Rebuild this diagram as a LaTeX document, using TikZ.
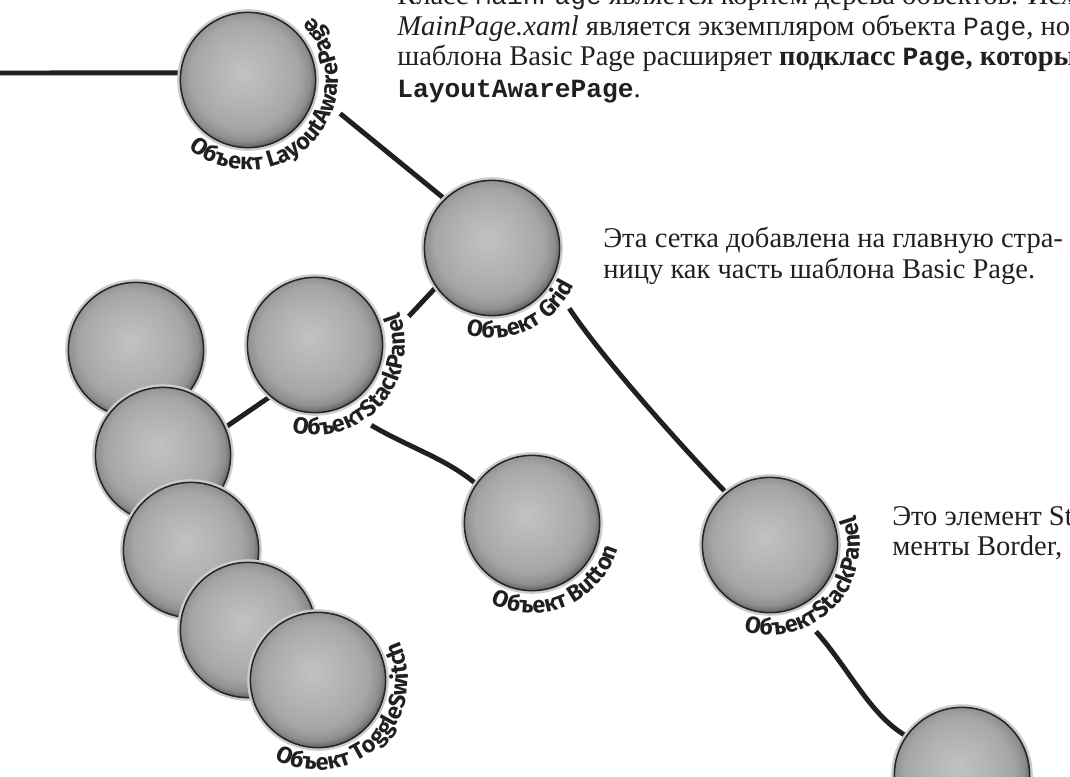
\documentclass[tikz,border=0pt]{standalone}
\usepackage{fontspec}
\setmainfont{Liberation Serif}
\newfontfamily\monofamily[Scale=0.92]{Liberation Mono}
\newfontfamily\objfamily{Fira Sans}
\usetikzlibrary{decorations.text, backgrounds}

\definecolor{ink}{HTML}{231F20}
% grey bead, light spot up left, dark rim
\pgfdeclareradialshading{orb}{\pgfpoint{-2bp}{3bp}}{color(0bp)=(black!24); color(12bp)=(black!30); color(20bp)=(black!35); color(24bp)=(black!44); color(26.5bp)=(black!62); color(28bp)=(black!75); color(50bp)=(black!75)}
\newcommand\monotext[1]{{\monofamily #1}}
\newcommand\objfont{\objfamily\bfseries\fontsize{16.5}{16.5}\selectfont}

\begin{document}
\begin{tikzpicture}[x=0.025cm, y=-0.025cm,
  obj/.style={circle, inner sep=0pt, minimum size=3.38cm, shading=orb,
    draw=black!85, line width=1.1pt, preaction={draw=black!20, line width=4.5pt}},
  wire/.style={draw=ink, line width=3.5pt},
  note/.style={anchor=base west, inner sep=0pt, text=ink, font=\fontsize{20.3}{22}\selectfont},
  tag/.style={decorate, decoration={text along path, text color=ink, text={|\objfont|#1}}}]
\useasboundingbox (0,0) rectangle (1070,776);
\clip (0,0) rectangle (1070,776);

% object tree
\node[obj] (lap) at (248,80) {};
\node[obj] (grid) at (492,248) {};
\node[obj] (spl) at (315,345) {};
\node[obj] (elA) at (136,350) {};
\node[obj] (elB) at (163,455) {};
\node[obj] (elC) at (191,550) {};
\node[obj] (elD) at (248,630) {};
\node[obj] (tsw) at (318,680) {};
\node[obj] (btn) at (532,523) {};
\node[obj] (spr) at (770,545) {};
\node[obj] (brd) at (962,775) {};
\coordinate (root) at (0,73);

% links behind the beads, kept clear of the names
\begin{scope}[on background layer]
\draw[wire] (root) -- (lap.174);
\draw[wire] ([shift={(-20:2.45cm)}]lap.center) -- (grid.134);
\draw[wire] (grid.215) -- ([shift={(17:2.45cm)}]spl.center);
\draw[wire] (spl.229) -- (elB.24);
\draw[wire] ([shift={(-55:2.45cm)}]spl.center) .. controls (410,448) and (445,458) .. (btn.145);
\draw[wire] ([shift={(-38:2.45cm)}]grid.center) .. controls (600,355) and (680,445) .. (spr.130);
\draw[wire] ([shift={(-62:2.45cm)}]spr.center) .. controls (850,670) and (870,715) .. (brd.145);
\end{scope}

% names bent round the beads
\path[tag={Объект LayoutAwarePage}] ([shift={(229:2.25cm)}]lap.center) arc[start angle=229, end angle=430, radius=2.25cm];
\path[tag={Объект Grid}] ([shift={(253:2.25cm)}]grid.center) arc[start angle=253, end angle=430, radius=2.25cm];
\path[tag={ОбъектStackPanel}] ([shift={(255:2.25cm)}]spl.center) arc[start angle=255, end angle=430, radius=2.25cm];
\path[tag={Объект ToggleSwitch}] ([shift={(241:2.25cm)}]tsw.center) arc[start angle=241, end angle=430, radius=2.25cm];
\path[tag={Объект Button}] ([shift={(243:2.25cm)}]btn.center) arc[start angle=243, end angle=430, radius=2.25cm];
\path[tag={ОбъектStackPanel}] ([shift={(253:2.25cm)}]spr.center) arc[start angle=253, end angle=430, radius=2.25cm];

% notes
\node[note] (n1) at (397,4) {Класс \monotext{MainPage} является корнем дерева объектов. Исходный};
\node[note] (n2) at (397,35) {\textit{MainPage.xaml} является экземпляром объекта \monotext{Page}, но};
\node[note] (n3) at (397,65) {шаблона Basic Page расширяет \textbf{подкласс \monotext{Page}, который}};
\node[note] (n4) at (397,97) {\textbf{\monotext{LayoutAwarePage}}.};
\node[note] (g1) at (603,247) {Эта сетка добавлена на главную стра-};
\node[note] (g2) at (603,278) {ницу как часть шаблона Basic Page.};
\node[note] (s1) at (892,525) {Это элемент StackPanel};
\node[note] (s2) at (892,555) {менты Border,};
\end{tikzpicture}
\end{document}
